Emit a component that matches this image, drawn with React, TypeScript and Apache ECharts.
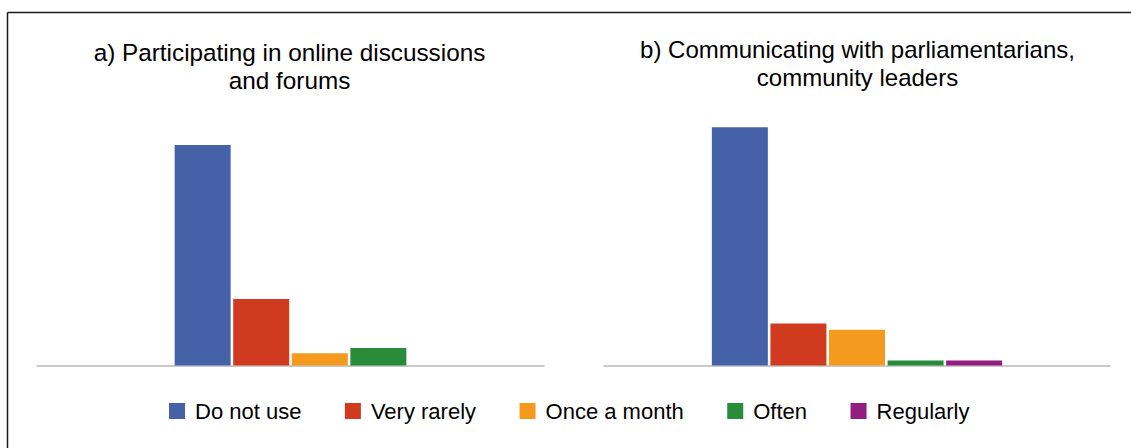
import React, { useEffect, useRef } from "react";
import * as echarts from "echarts";

const seriesNames = ["Do not use", "Very rarely", "Once a month", "Often", "Regularly"];
const seriesColors = ["#4562a8", "#d03b20", "#f39a1f", "#288c3a", "#931e82"];

// Panel a (no "Regularly" bar)
const titleA = "a) Participating in online discussions\nand forums";
const valuesA = [69.6, 21.0, 3.9, 5.5];

// Panel b
const titleB = "b) Communicating with parliamentarians,\ncommunity leaders";
const valuesB = [73.1, 12.9, 11.0, 1.5, 1.5];

const FONT = "'Liberation Sans', Arial, sans-serif";

export default function App() {
  const ref = useRef<HTMLDivElement>(null);

  useEffect(() => {
    document.body.style.margin = "0";
    if (!ref.current) return;
    const chart = echarts.init(ref.current, undefined, { renderer: "svg" });

    const axisLine = { show: true, lineStyle: { color: "#b9b9b9", width: 1.5 } };

    const makeSeries = (values: number[], axisIndex: number) =>
      values.map((v, i) => ({
        name: seriesNames[i],
        type: "bar",
        xAxisIndex: axisIndex,
        yAxisIndex: axisIndex,
        data: [v],
        barWidth: 56,
        barGap: "4.6%",
        itemStyle: { color: seriesColors[i] },
        emphasis: { disabled: true },
      }));

    chart.setOption({
      animation: false,
      backgroundColor: "#ffffff",
      textStyle: { fontFamily: FONT },
      title: [
        {
          text: titleA,
          left: 289.5,
          top: 38,
          textAlign: "center",
          padding: 0,
          textStyle: { fontFamily: FONT, fontSize: 24.3, lineHeight: 28, fontWeight: "normal", color: "#000" },
        },
        {
          text: titleB,
          left: 857.5,
          top: 35,
          textAlign: "center",
          padding: 0,
          textStyle: { fontFamily: FONT, fontSize: 24, lineHeight: 28, fontWeight: "normal", color: "#000" },
        },
      ],
      legend: {
        data: seriesNames,
        left: 169,
        top: 400,
        padding: 0,
        itemWidth: 16,
        itemHeight: 16,
        itemGap: 43.5,
        icon: "rect",
        selectedMode: false,
        textStyle: { fontFamily: FONT, fontSize: 22, lineHeight: 22, color: "#000", padding: [0, 0, 0, 5] },
      },
      grid: [
        { left: 37, right: 1131 - 544, top: 100, bottom: 448 - 365.5 },
        { left: 604, right: 1131 - 1110, top: 100, bottom: 448 - 365.5 },
      ],
      xAxis: [0, 1].map((g) => ({
        type: "category",
        gridIndex: g,
        data: [""],
        axisLine,
        axisTick: { show: false },
        axisLabel: { show: false },
        splitLine: { show: false },
      })),
      yAxis: [
        { type: "value", gridIndex: 0, min: 0, max: 83.8, show: false, splitLine: { show: false } },
        { type: "value", gridIndex: 1, min: 0, max: 81.44, show: false, splitLine: { show: false } },
      ],
      series: [...makeSeries(valuesA, 0), ...makeSeries(valuesB, 1)],
      graphic: [
        {
          type: "line",
          silent: true,
          shape: { x1: 7.5, y1: 12.5, x2: 1131, y2: 12.5 },
          style: { stroke: "#1a1a1a", lineWidth: 1.5 },
        },
        {
          type: "line",
          silent: true,
          shape: { x1: 7.5, y1: 12.5, x2: 7.5, y2: 448 },
          style: { stroke: "#1a1a1a", lineWidth: 1.5 },
        },
      ],
    });

    return () => chart.dispose();
  }, []);

  return <div ref={ref} style={{ width: 1131, height: 448 }} />;
}
